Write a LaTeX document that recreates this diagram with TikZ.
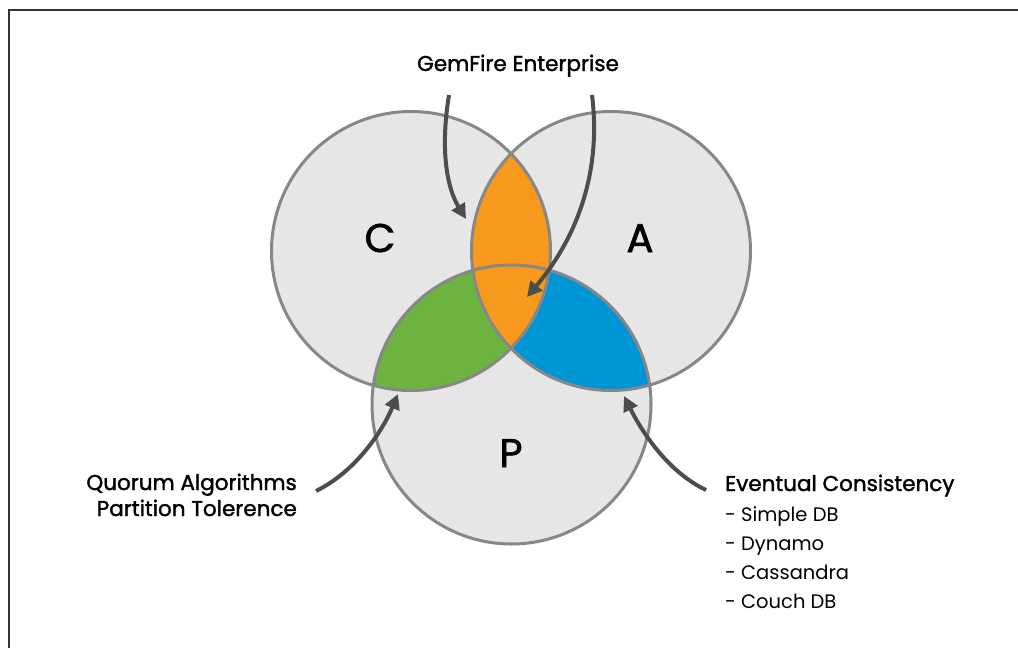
\documentclass[tikz,border=0pt]{standalone}
\usepackage{fontspec}
\setmainfont{Poppins}
\newfontfamily\medfont{Poppins}[FakeBold=1.6]
\usetikzlibrary{arrows.meta}
\definecolor{fillgray}{HTML}{E6E6E6}
\definecolor{linegray}{HTML}{878787}
\definecolor{arrowgray}{HTML}{4D4D4D}
\definecolor{framegray}{HTML}{333333}
\definecolor{orangeR}{HTML}{F7991C}
\definecolor{greenR}{HTML}{6CB33F}
\definecolor{blueR}{HTML}{0096D6}
\begin{document}
\begin{tikzpicture}[x=1pt,y=-1pt,
  circ/.style={line width=3pt, draw=linegray},
  arr/.style={line width=4pt, draw=arrowgray, -{Triangle[length=15pt,width=15pt]}},
  big/.style={font=\fontsize{40}{40}\selectfont\medfont, text=black, inner sep=0pt},
  lab/.style={font=\fontsize{21.5}{26}\selectfont\medfont, text=black, inner sep=0pt},
  item/.style={font=\fontsize{19.5}{29}\selectfont, text=black, inner sep=0pt}]
\useasboundingbox (0,0) rectangle (1018,648);
\draw[framegray, line width=2pt] (1018,10) -- (9,10) -- (9,648);
\coordinate (cC) at (411,251);
\coordinate (cA) at (611,251);
\coordinate (cP) at (511.5,404.5);
\def\rad{139.5}
% base fills
\fill[fillgray] (cC) circle (\rad);
\fill[fillgray] (cA) circle (\rad);
\fill[fillgray] (cP) circle (\rad);
% green C∩P
\begin{scope}\clip (cC) circle (\rad); \fill[greenR] (cP) circle (\rad);\end{scope}
% blue A∩P
\begin{scope}\clip (cA) circle (\rad); \fill[blueR] (cP) circle (\rad);\end{scope}
% orange C∩A
\begin{scope}\clip (cC) circle (\rad); \fill[orangeR] (cA) circle (\rad);\end{scope}
\draw[circ] (cC) circle (\rad);
\draw[circ] (cA) circle (\rad);
\draw[circ] (cP) circle (\rad);
% letters
\node[big, anchor=base] (lC) at (380,252) {C};
\node[big, anchor=base] (lA) at (640,252) {A};
\node[big, anchor=base] (lP) at (511,467) {P};
% labels
\node[lab, anchor=base] (gem) at (518,71) {GemFire Enterprise};
\node[lab, anchor=base east] (quorum) at (297,490) {Quorum Algorithms};
\node[lab, anchor=base east] (part) at (297,516) {Partition Tolerence};
\node[lab, anchor=base west] (ev) at (725,491) {Eventual Consistency};
\node[item, anchor=base west] (i1) at (725,521) {- Simple DB};
\node[item, anchor=base west] (i2) at (725,550) {- Dynamo};
\node[item, anchor=base west] (i3) at (725,579) {- Cassandra};
\node[item, anchor=base west] (i4) at (725,608) {- Couch DB};
% arrow end points
\coordinate (s1) at (449,95);
\coordinate (t1) at (466,219);
\coordinate (s2) at (592,95);
\coordinate (t2) at (527,297);
\coordinate (s3) at (316,491);
\coordinate (t3) at (398,394);
\coordinate (s4) at (706,490);
\coordinate (t4) at (624,396);
\draw[arr] (s1) .. controls (440,150) and (447,188) .. (t1);
\draw[arr] (s2) .. controls (602,175) and (575,240) .. (t2);
\draw[arr] (s3) .. controls (355,472) and (382,432) .. (t3);
\draw[arr] (s4) .. controls (668,472) and (642,432) .. (t4);
\end{tikzpicture}
\end{document}
